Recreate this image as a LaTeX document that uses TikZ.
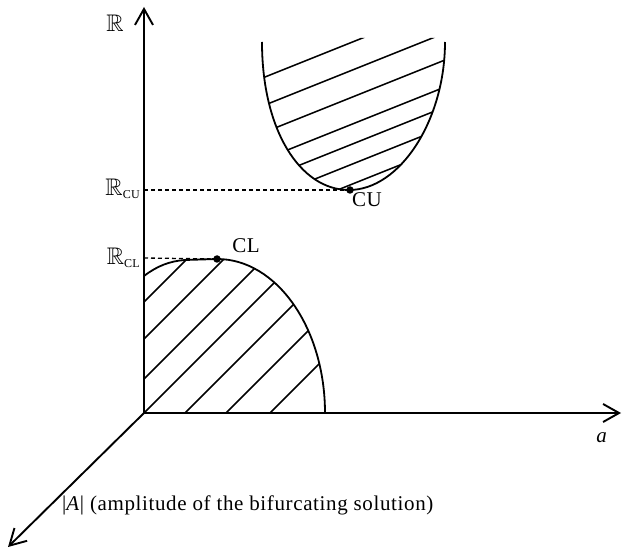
\documentclass[tikz,border=0pt]{standalone}
\usepackage{amssymb}
\usepackage{fontspec}
\setmainfont[LetterSpace=3]{Liberation Serif}
\usetikzlibrary{arrows.meta}
\newcommand{\Rsub}[1]{{\fontsize{24}{26}\selectfont$\mathbb{R}$}\raisebox{-3pt}{\fontsize{12}{13}\selectfont #1}}
\tikzset{
	axis/.style     ={-{Straight Barb[length=16pt, width=18pt]}, line width=1.9pt},
	bound/.style    ={line width=1.8pt},
	hatch/.style    ={line width=1.5pt},
	dashline/.style ={dash pattern=on 4pt off 3pt, line width=1.3pt},
	dot/.style      ={circle, fill=black, inner sep=0pt, minimum size=7.5pt},
	lbl/.style      ={inner sep=0pt},
}
\begin{document}
\begin{tikzpicture}[x=10pt, y=10pt, font=\fontsize{21}{24}\selectfont]
	\useasboundingbox (0,0) rectangle (62.2,55);
	% axes
	\coordinate (o) at (14.4,13.7);
	\coordinate (rtop) at (14.4,54.3);
	\coordinate (aend) at (62.1,13.7);
	\coordinate (Aend) at (0.8,0.3);
	\draw[axis] (o) -- (rtop);
	\draw[axis] (o) -- (aend);
	\draw[axis] (o) -- (Aend);
	\node[lbl, font=\fontsize{24}{26}\selectfont] (rlab) at (11.5,52.7) {$\mathbb{R}$};
	\node[lbl] (alab) at (60.2,11.2) {\textit{a}};
	\node[lbl, anchor=west] (Alab) at (6.2,4.5) {|\textit{A}| (amplitude of the bifurcating solution)};
	% lower region (CL)
	\begin{scope}
		\clip (o) -- (14.4,27.4) .. controls (15.7,28.4) and (17,28.9) .. (18.5,29.0) -- (21.7,29.1)
			arc[start angle=90, end angle=0, x radius=10.8, y radius=15.4] -- cycle;
		\foreach \h in {-10.4,-6.7,-2.7,0.7,4.8,8.9,13.3}
			\draw[hatch] (\h+10,10) -- (\h+40,40);
	\end{scope}
	\draw[bound] (14.4,27.4) .. controls (15.7,28.4) and (17,28.9) .. (18.5,29.0) -- (21.7,29.1)
		arc[start angle=90, end angle=0, x radius=10.8, y radius=15.4];
	% upper region (CU)
	\begin{scope}
		\clip (26.2,51.2) -- (26.2,50.8) .. controls (26.2,42.0) and (30.0,36.0) .. (34.9,36.0)
			.. controls (40.0,36.0) and (44.5,43.0) .. (44.5,50.8) -- (44.5,51.2) -- cycle;
		\foreach \h in {36.7,33.9,31.2,28.5,26.5,24.5,22.5}
			\draw[hatch] (20,20*0.4+\h) -- (50,50*0.4+\h);
	\end{scope}
	\draw[bound] (26.2,50.8) .. controls (26.2,42.0) and (30.0,36.0) .. (34.9,36.0)
		.. controls (40.0,36.0) and (44.5,43.0) .. (44.5,50.8);
	% critical points
	\coordinate (ycu) at (14.4,36.0);
	\coordinate (ycl) at (14.4,29.2);
	\node[dot] (cu) at (35.0,36.0) {};
	\node[dot] (cl) at (21.7,29.1) {};
	\draw[dashline] (ycu) -- (cu);
	\draw[dashline] (ycl) -- (cl);
	\node[lbl] (culab) at (36.7,35.0) {CU};
	\node[lbl] (cllab) at (24.6,30.4) {CL};
	\node[lbl, anchor=base east] (rculab) at (14.0,35.4) {\Rsub{CU}};
	\node[lbl, anchor=base east] (rcllab) at (14.0,28.5) {\Rsub{CL}};
\end{tikzpicture}
\end{document}
